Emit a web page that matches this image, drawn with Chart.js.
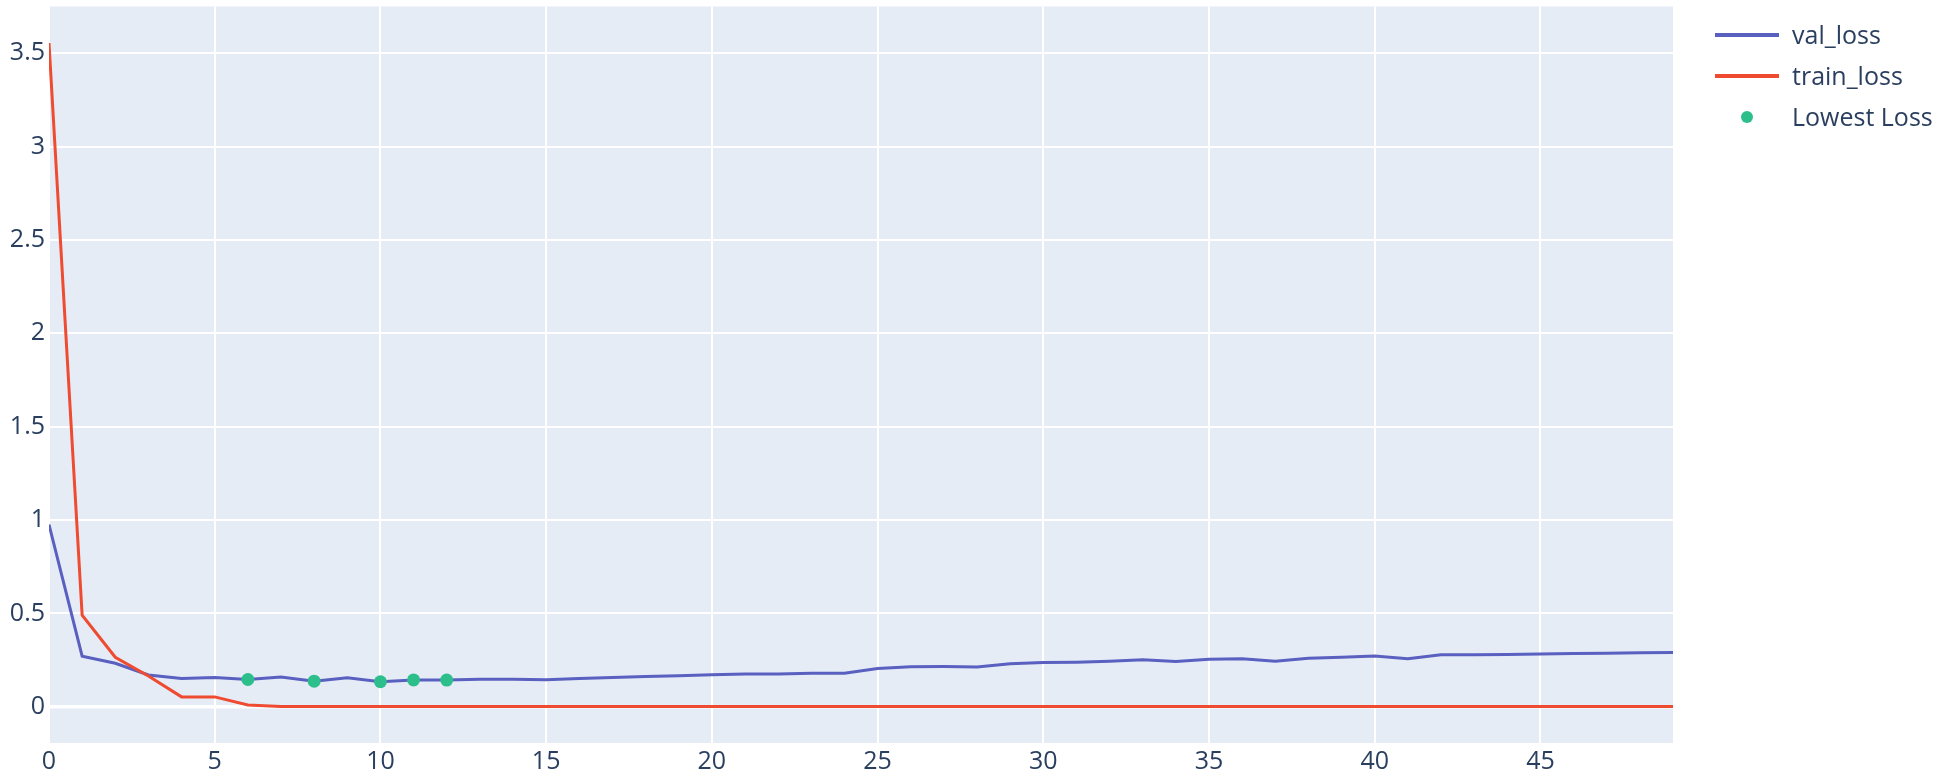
<!DOCTYPE html>
<html>
<head>
<meta charset="utf-8">
<script src="https://cdn.jsdelivr.net/npm/chart.js@4/dist/chart.umd.min.js"></script>
<style>
    html, body { margin: 0; padding: 0; background: #ffffff; }
    #wrap { position: relative; width: 1950px; height: 777px; }
    #lossChart { position: absolute; left: 0; top: 0; }
    .legend { position: absolute; left: 1715px; top: 14px; font-family: "Open Sans", sans-serif; font-size: 25px; color: #2a3f5f; }
    .legend .row { position: relative; height: 41px; line-height: 41px; padding-left: 77px; white-space: nowrap; }
    .legend .sym { position: absolute; left: 0; top: 19px; width: 64px; height: 4px; }
    .legend .dot { position: absolute; left: 26px; top: 15px; width: 12px; height: 12px; border-radius: 50%; }
</style>
</head>
<body>
<div id="wrap">
    <canvas id="lossChart" width="1950" height="777"></canvas>
    <div class="legend" id="legend"></div>
</div>
<script>
    const epochs = [0, 1, 2, 3, 4, 5, 6, 7, 8, 9, 10, 11, 12, 13, 14, 15, 16, 17, 18, 19,
        20, 21, 22, 23, 24, 25, 26, 27, 28, 29, 30, 31, 32, 33, 34, 35, 36, 37, 38, 39,
        40, 41, 42, 43, 44, 45, 46, 47, 48, 49];

    const valLoss = [0.976, 0.271, 0.233, 0.170, 0.152, 0.157, 0.146, 0.159, 0.137, 0.155,
        0.134, 0.144, 0.143, 0.147, 0.147, 0.145, 0.151, 0.157, 0.162, 0.166,
        0.171, 0.175, 0.176, 0.180, 0.179, 0.205, 0.214, 0.215, 0.213, 0.231,
        0.237, 0.239, 0.244, 0.252, 0.243, 0.255, 0.257, 0.244, 0.260, 0.265,
        0.272, 0.257, 0.279, 0.278, 0.280, 0.283, 0.285, 0.287, 0.289, 0.290];

    const trainLoss = [3.554, 0.490, 0.265, 0.165, 0.053, 0.053, 0.010, 0.002, 0.001, 0.001,
        0.001, 0.001, 0.001, 0.001, 0.001, 0.001, 0.001, 0.001, 0.001, 0.001,
        0.001, 0.001, 0.001, 0.001, 0.001, 0.001, 0.001, 0.001, 0.001, 0.001,
        0.001, 0.001, 0.001, 0.001, 0.001, 0.001, 0.001, 0.001, 0.001, 0.001,
        0.001, 0.001, 0.001, 0.001, 0.001, 0.001, 0.001, 0.001, 0.001, 0.001];

    const lowestEpochs = [6, 8, 10, 11, 12];
    const lowestValues = [0.146, 0.137, 0.134, 0.144, 0.143];

    const xTicks = [0, 5, 10, 15, 20, 25, 30, 35, 40, 45];
    const yTicks = [0, 0.5, 1, 1.5, 2, 2.5, 3, 3.5];

    const seriesNames = ['val_loss', 'train_loss', 'Lowest Loss'];
    const seriesColors = ['#5a60c0', '#EF4B30', '#2cbf8c'];

    const tickFont = { family: '"Open Sans", sans-serif', size: 25 };

    // plot background like plotly
    const plotBg = {
        id: 'plotBg',
        beforeDraw(chart) {
            const a = chart.chartArea;
            const ctx = chart.ctx;
            ctx.save();
            ctx.fillStyle = '#E5ECF6';
            ctx.fillRect(a.left, a.top, a.right - a.left, a.bottom - a.top);
            ctx.restore();
        }
    };

    new Chart(document.getElementById('lossChart'), {
        type: 'line',
        data: {
            datasets: [{
                label: seriesNames[0],
                data: epochs.map((e, i) => ({ x: e, y: valLoss[i] })),
                borderColor: seriesColors[0],
                borderWidth: 3,
                pointRadius: 0,
                tension: 0,
                order: 2
            }, {
                label: seriesNames[1],
                data: epochs.map((e, i) => ({ x: e, y: trainLoss[i] })),
                borderColor: seriesColors[1],
                borderWidth: 3,
                pointRadius: 0,
                tension: 0,
                order: 1
            }, {
                label: seriesNames[2],
                data: lowestEpochs.map((e, i) => ({ x: e, y: lowestValues[i] })),
                showLine: false,
                pointRadius: 6.5,
                pointBackgroundColor: seriesColors[2],
                pointBorderWidth: 0,
                order: 0
            }]
        },
        options: {
            responsive: false,
            animation: false,
            devicePixelRatio: 1,
            layout: {
                padding: { top: 5, right: 277, left: 0, bottom: 0 }
            },
            plugins: {
                legend: { display: false },
                tooltip: { enabled: false }
            },
            scales: {
                x: {
                    type: 'linear',
                    min: 0,
                    max: 49,
                    afterBuildTicks: s => { s.ticks = xTicks.map(v => ({ value: v })); },
                    afterFit: s => { s.height = 34; s.paddingLeft = 0; s.paddingRight = 0; },
                    border: { display: false },
                    grid: { color: '#ffffff', lineWidth: 2, drawTicks: false },
                    ticks: { color: '#2a3f5f', font: tickFont, padding: 4, maxRotation: 0 }
                },
                y: {
                    type: 'linear',
                    min: -0.194,
                    max: 3.75,
                    afterBuildTicks: s => { s.ticks = yTicks.map(v => ({ value: v })); },
                    afterFit: s => { s.width = 49; s.paddingTop = 0; s.paddingBottom = 0; },
                    border: { display: false },
                    grid: {
                        color: '#ffffff',
                        lineWidth: c => (c.tick && c.tick.value === 0 ? 3.5 : 2),
                        drawTicks: false
                    },
                    ticks: {
                        color: '#2a3f5f',
                        font: tickFont,
                        padding: 4,
                        callback: v => String(v)
                    }
                }
            }
        },
        plugins: [plotBg]
    });

    // legend, plotly style
    const legend = document.getElementById('legend');
    seriesNames.forEach((name, i) => {
        const row = document.createElement('div');
        row.className = 'row';
        const sym = document.createElement('span');
        sym.className = i < 2 ? 'sym' : 'dot';
        sym.style.background = seriesColors[i];
        row.appendChild(sym);
        row.appendChild(document.createTextNode(name));
        legend.appendChild(row);
    });
</script>
</body>
</html>
